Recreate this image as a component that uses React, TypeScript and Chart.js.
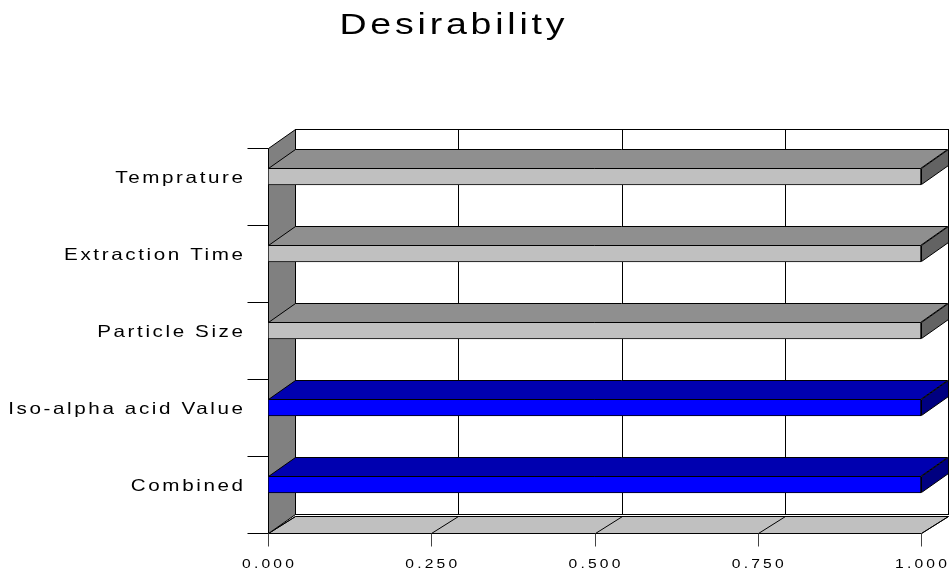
import { useEffect, useRef } from "react";
import { Chart, registerables } from "chart.js";

Chart.register(...registerables);

// ---- data ----
const TITLE = "Desirability";
const FACTORS = ["Temprature", "Extraction Time", "Particle Size", "Iso-alpha acid Value", "Combined"];
const DESIRABILITY = [1.0, 1.0, 1.0, 1.0, 1.0];
const X_TICKS = [0, 0.25, 0.5, 0.75, 1];
const X_TICK_LABELS = ["0.000", "0.250", "0.500", "0.750", "1.000"];

// ---- styles ----
const FRONT_COLORS = ["#c0c0c0", "#c0c0c0", "#c0c0c0", "#0000ff", "#0000ff"];
const TOP_COLORS = ["#8f8f8f", "#8f8f8f", "#8f8f8f", "#0000b0", "#0000b0"];
const SIDE_COLORS = ["#636363", "#636363", "#636363", "#000080", "#000080"];
const WALL_COLOR = "#808080";
const FLOOR_COLOR = "#c0c0c0";
const FONT = "'Liberation Sans', Arial, Helvetica, sans-serif";
const TEXT_STRETCH = 1.25;

// 3D depth offset (back plane = front plane + (DX, -DY))
const DX = 27;
const DY = 19;
// the front plane sits this far below the category scale's area
const FRONT_SHIFT = 10;

// Draws text widened horizontally by TEXT_STRETCH with extra tracking (in output px).
function wideText(
  ctx: CanvasRenderingContext2D,
  text: string,
  x: number,
  y: number,
  size: number,
  spacing: number,
  align: "left" | "center" | "right"
) {
  ctx.save();
  ctx.font = `${size}px ${FONT}`;
  ctx.fillStyle = "#000";
  ctx.textBaseline = "alphabetic";
  ctx.textAlign = "left";
  const c = ctx as any;
  const supported = "letterSpacing" in c;
  const ls = spacing / TEXT_STRETCH;
  if (supported) c.letterSpacing = `${ls}px`;
  let w = ctx.measureText(text).width;
  if (supported) w -= ls;
  else w += ls * (text.length - 1);
  const wOut = w * TEXT_STRETCH;
  let sx = x;
  if (align === "center") sx = x - wOut / 2;
  else if (align === "right") sx = x - wOut;
  ctx.translate(sx, y);
  ctx.scale(TEXT_STRETCH, 1);
  if (supported) {
    ctx.fillText(text, 0, 0);
  } else {
    let cx = 0;
    for (const ch of text) {
      ctx.fillText(ch, cx, 0);
      cx += ctx.measureText(ch).width + ls;
    }
  }
  ctx.restore();
}

function line(ctx: CanvasRenderingContext2D, x1: number, y1: number, x2: number, y2: number) {
  ctx.beginPath();
  ctx.moveTo(x1, y1);
  ctx.lineTo(x2, y2);
  ctx.stroke();
}

function poly(ctx: CanvasRenderingContext2D, pts: number[][], fill: string) {
  ctx.beginPath();
  ctx.moveTo(pts[0][0], pts[0][1]);
  for (let i = 1; i < pts.length; i++) ctx.lineTo(pts[i][0], pts[i][1]);
  ctx.closePath();
  ctx.fillStyle = fill;
  ctx.fill();
  ctx.stroke();
}

const box3d = {
  id: "box3d",
  beforeDatasetsDraw(chart: any) {
    const ctx: CanvasRenderingContext2D = chart.ctx;
    const xs = chart.scales.x;
    const ys = chart.scales.y;
    const x0 = Math.round(xs.getPixelForValue(X_TICKS[0]));
    const x1 = Math.round(xs.getPixelForValue(X_TICKS[X_TICKS.length - 1]));
    const yTop = Math.round(ys.top) + FRONT_SHIFT;
    const yBot = Math.round(ys.bottom) + FRONT_SHIFT;

    ctx.save();
    ctx.strokeStyle = "#000";
    ctx.lineWidth = 1;
    ctx.translate(0.5, 0.5);

    // back wall with vertical grid lines
    ctx.fillStyle = "#fff";
    ctx.fillRect(x0 + DX, yTop - DY, x1 - x0, yBot - yTop);
    ctx.strokeRect(x0 + DX, yTop - DY, x1 - x0, yBot - yTop);
    for (const t of X_TICKS) {
      const px = Math.round(xs.getPixelForValue(t)) + DX;
      line(ctx, px, yTop - DY, px, yBot - DY);
    }

    // floor with receding grid lines
    poly(ctx, [[x0, yBot], [x1, yBot], [x1 + DX, yBot - DY + 2], [x0 + DX, yBot - DY + 2]], FLOOR_COLOR);
    for (const t of X_TICKS) {
      const px = Math.round(xs.getPixelForValue(t));
      line(ctx, px, yBot, px + DX, yBot - DY + 2);
    }

    // left side wall
    poly(ctx, [[x0, yTop], [x0 + DX, yTop - DY], [x0 + DX, yBot - DY], [x0, yBot]], WALL_COLOR);

    // category separators on the left
    const n = FACTORS.length;
    for (let i = 0; i <= n; i++) {
      const py = Math.round(yTop + ((yBot - yTop) * i) / n);
      line(ctx, x0 - 21, py, x0, py);
    }

    // value ticks below the floor
    ctx.strokeStyle = "#444";
    for (const t of X_TICKS) {
      const px = Math.round(xs.getPixelForValue(t));
      line(ctx, px, yBot, px, yBot + 13);
    }
    ctx.restore();
  },
  afterDatasetsDraw(chart: any) {
    const ctx: CanvasRenderingContext2D = chart.ctx;
    const meta = chart.getDatasetMeta(0);
    ctx.save();
    ctx.strokeStyle = "#000";
    ctx.lineWidth = 1;
    meta.data.forEach((el: any, i: number) => {
      const { x, y, base, height } = el.getProps(["x", "y", "base", "height"], true);
      const top = Math.round(y - height / 2) + 0.5;
      const bot = Math.round(y + height / 2) - 0.5;
      const l = Math.round(base) + 0.5;
      const r = Math.round(x) - 0.5;
      // top face
      poly(ctx, [[l, top], [r, top], [r + DX, top - DY], [l + DX, top - DY]], TOP_COLORS[i]);
      // end face
      poly(ctx, [[r + 1, top], [r + 1 + DX, top - DY], [r + 1 + DX, bot - DY], [r + 1, bot]], SIDE_COLORS[i]);
    });
    ctx.restore();
  },
  afterDraw(chart: any) {
    const ctx: CanvasRenderingContext2D = chart.ctx;
    const xs = chart.scales.x;
    const ys = chart.scales.y;

    wideText(ctx, TITLE, 452, 34, 30, 3.8, "center");

    FACTORS.forEach((label, i) => {
      const py = ys.getPixelForValue(i);
      wideText(ctx, label, 243, py + 6.5, 16.5, 2.6, "right");
    });

    X_TICKS.forEach((t, i) => {
      const px = xs.getPixelForValue(t);
      wideText(ctx, X_TICK_LABELS[i], px, Math.round(ys.bottom) + FRONT_SHIFT + 35, 12.5, 3.2, "center");
    });
  },
};

export default function App() {
  const canvasRef = useRef<HTMLCanvasElement | null>(null);

  useEffect(() => {
    const canvas = canvasRef.current;
    if (!canvas) return;
    const chart = new Chart(canvas, {
      type: "bar",
      data: {
        labels: FACTORS,
        datasets: [
          {
            data: DESIRABILITY,
            backgroundColor: FRONT_COLORS,
            borderColor: "#000",
            borderWidth: 1,
            borderSkipped: false,
            barThickness: 17,
          },
        ],
      },
      options: {
        indexAxis: "y",
        animation: false,
        responsive: false,
        devicePixelRatio: 1,
        events: [],
        layout: { padding: { left: 268, right: 31, top: 138, bottom: 52 } },
        scales: {
          x: { display: false, min: X_TICKS[0], max: X_TICKS[X_TICKS.length - 1] },
          y: { display: false },
        },
        plugins: {
          legend: { display: false },
          title: { display: false },
          tooltip: { enabled: false },
        },
      },
      plugins: [box3d],
    });
    return () => chart.destroy();
  }, []);

  return (
    <div style={{ position: "absolute", left: 0, top: 0, width: 952, height: 575, background: "#fff" }}>
      <canvas ref={canvasRef} width={952} height={575} style={{ display: "block" }} />
    </div>
  );
}
